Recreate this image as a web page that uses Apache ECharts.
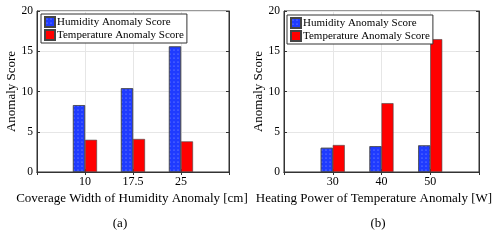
<!DOCTYPE html>
<html><head><meta charset="utf-8">
<script src="https://cdn.jsdelivr.net/npm/echarts@6/dist/echarts.min.js"></script>
<style>html,body{margin:0;padding:0;background:#fff}#c{width:498px;height:240px}</style>
</head><body><div id="c"></div>
<script>
const catsA = ['', '10', '17.5', '25', ''];
const humA = [null, 8.3, 10.4, 15.6, null];
const tempA = [null, 4.0, 4.1, 3.8, null];
const catsB = ['', '30', '40', '50', ''];
const humB = [null, 3.0, 3.2, 3.3, null];
const tempB = [null, 3.35, 8.55, 16.5, null];
const yTicks = [0, 5, 10, 15, 20];
const seriesNames = ['Humidity Anomaly Score', 'Temperature Anomaly Score'];
const xNameA = 'Coverage Width of Humidity Anomaly [cm]';
const xNameB = 'Heating Power of Temperature Anomaly [W]';

const FONT = 'Liberation Serif';
const chart = echarts.init(document.getElementById('c'));
const grids = [
  {left: 37, right: 269, top: 11, bottom: 68},
  {left: 284, right: 19, top: 11, bottom: 68}
];
function xAx(gi, cats, top) {
  return {
    type: 'category', gridIndex: gi, data: cats, boundaryGap: false,
    position: top ? 'top' : 'bottom',
    axisLine: {show: true, lineStyle: {color: '#333', width: 1}},
    axisTick: {show: true, inside: true, length: 3, alignWithLabel: true, lineStyle: {color: '#333'}},
    axisLabel: {show: !top, fontFamily: FONT, fontSize: 12, color: '#000', margin: 4},
    splitLine: {show: !top, lineStyle: {color: '#e6e6e6', width: 1}}
  };
}
function yAx(gi, right) {
  return {
    type: 'value', gridIndex: gi, min: 0, max: 20, interval: 5,
    position: right ? 'right' : 'left',
    name: right ? '' : 'Anomaly Score', nameLocation: 'middle', nameGap: 18,
    nameTextStyle: {fontFamily: FONT, fontSize: 13, color: '#000'},
    axisLine: {show: true, lineStyle: {color: '#333', width: 1}},
    axisTick: {show: true, inside: true, length: 3, lineStyle: {color: '#333'}},
    axisLabel: {show: !right, fontFamily: FONT, fontSize: 11.5, color: '#000', margin: 4,
      formatter: v => yTicks.includes(v) ? String(v) : ''},
    splitLine: {show: !right, lineStyle: {color: '#e6e6e6', width: 1}}
  };
}
const decal = {symbol: 'circle', symbolSize: 0.3, color: 'rgba(255,255,255,0.55)', dashArrayX: [4, 0], dashArrayY: [4, 0], rotation: 0};
function bars(name, data, xi, yi, color, withDecal) {
  return {
    type: 'bar', name, data, xAxisIndex: xi, yAxisIndex: yi, barWidth: 12, barGap: '0%',
    itemStyle: Object.assign({color, borderColor: '#444', borderWidth: 0.6}, withDecal ? {decal} : {}),
    emphasis: {disabled: true}, animation: false
  };
}
function legend(left, top) {
  return {
    left, top, orient: 'vertical', itemGap: 1, itemWidth: 10, itemHeight: 10, padding: [2, 3, 2, 3],
    borderColor: '#333', borderWidth: 1, backgroundColor: '#fff', icon: 'rect', data: seriesNames,
    textStyle: {fontFamily: FONT, fontSize: 11, color: '#000', padding: [0, 0, 0, -3]}
  };
}
function txt(x, y, text) {
  return {type: 'text', x, y, style: {text, font: '13px "Liberation Serif"', fill: '#000', textAlign: 'center', textVerticalAlign: 'middle'}};
}
chart.setOption({
  animation: false,
  grid: grids.map(g => Object.assign({show: true, borderColor: '#333', borderWidth: 1, backgroundColor: '#fff', outerBoundsMode: 'none', containLabel: false}, g)),
  xAxis: [xAx(0, catsA, false), xAx(0, catsA, true), xAx(1, catsB, false), xAx(1, catsB, true)],
  yAxis: [yAx(0, false), yAx(0, true), yAx(1, false), yAx(1, true)],
  legend: [legend(41, 14), legend(287, 15)],
  series: [
    bars(seriesNames[0], humA, 0, 0, '#1f3bff', true),
    bars(seriesNames[1], tempA, 0, 0, '#ff0000', false),
    bars(seriesNames[0], humB, 2, 2, '#1f3bff', true),
    bars(seriesNames[1], tempB, 2, 2, '#ff0000', false)
  ],
  graphic: [
    txt(132, 199, xNameA),
    txt(374, 199, xNameB),
    txt(120, 224, '(a)'),
    txt(378, 224, '(b)')
  ]
});
</script></body></html>
